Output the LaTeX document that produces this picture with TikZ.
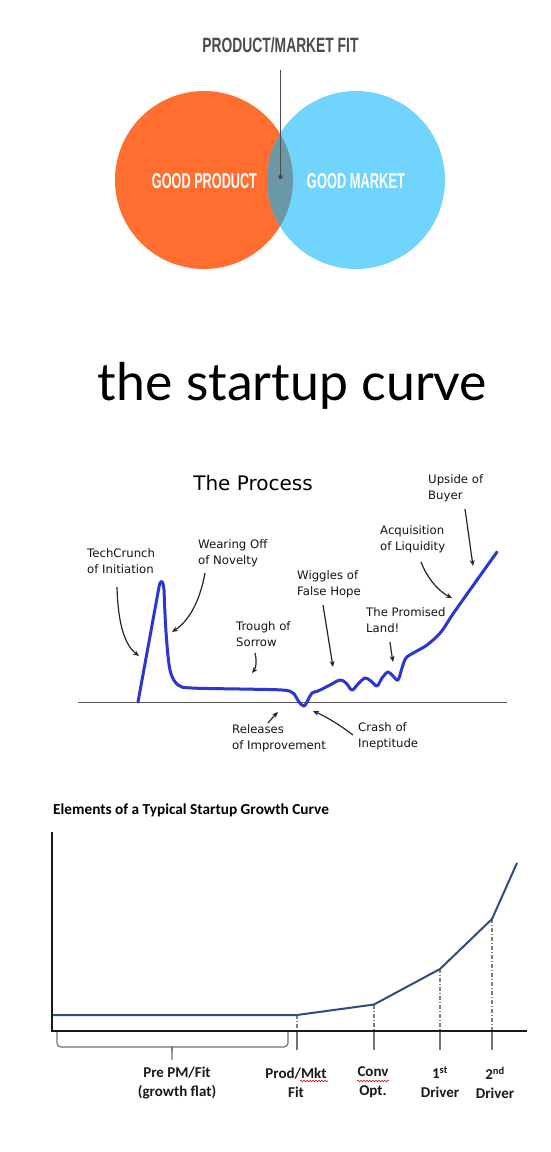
\documentclass[tikz,border=0pt]{standalone}
\usepackage{fontspec}
\usetikzlibrary{arrows.meta,decorations.pathmorphing}
\newfontfamily\condfont{Liberation Sans}
\newfontfamily\gillfont{Lato}
\newfontfamily\lucfont{DejaVu Sans}
\newfontfamily\calfont{Carlito}
\definecolor{vorange}{HTML}{FF6D2F}
\definecolor{vblue}{HTML}{70D4FC}
\definecolor{vmix}{HTML}{6B98A6}
\definecolor{vgray}{HTML}{4A4C50}
\definecolor{cblue}{HTML}{2B37D0}
\definecolor{gblue}{HTML}{2F4E7E}
\begin{document}
\begin{tikzpicture}[x=1pt,y=-1pt,
  vlabel/.style={inner sep=0pt,text=white},
  plabel/.style={inner sep=0pt,anchor=west,align=left,font=\lucfont\fontsize{11.7}{16}\selectfont,text=black!92},
  parrow/.style={draw=black!85,line width=1.2pt,-{Stealth[length=6pt,width=5pt]}},
  glabel/.style={inner sep=0pt,align=center,font=\calfont\bfseries\fontsize{15}{19}\selectfont,text=black!90},
  gdash/.style={draw=black!50,line width=1.2pt,dash pattern=on 4pt off 2pt on 1pt off 2pt},
  gtick/.style={draw=black!55,line width=1.2pt},
  squig/.style={draw=red!80!black,line width=0.6pt,decorate,decoration={snake,amplitude=0.7pt,segment length=3pt}}]
\useasboundingbox (0,0) rectangle (550,1152);
\fill[white] (0,0) rectangle (550,1152);
% ---------- Venn ----------
\fill[vorange] (204,180) circle[radius=89];
\fill[vblue] (356,180) circle[radius=89];
\begin{scope}
  \clip (204,180) circle[radius=89];
  \fill[vmix] (356,180) circle[radius=89];
\end{scope}
\node[inner sep=0pt,text=vgray] (pmf) at (280.5,45) {\resizebox{156pt}{15pt}{\condfont\bfseries PRODUCT/MARKET FIT}};
\coordinate (pmftop) at (280.5,70);
\coordinate (dot) at (280.5,177);
\draw[vgray,line width=1pt] (pmftop) -- (dot);
\fill[vgray] (dot) circle[radius=2.2];
\node[vlabel] (gp) at (204.5,181) {\resizebox{105pt}{15pt}{\condfont\bfseries GOOD PRODUCT}};
\node[vlabel] (gm) at (356,181) {\resizebox{98pt}{15pt}{\condfont\bfseries GOOD MARKET}};
% ---------- the startup curve ----------
\node[inner sep=0pt,anchor=base] (title) at (292.5,400) {\resizebox{389pt}{!}{\gillfont the startup curve}};
% ---------- The Process ----------
\node[inner sep=0pt,font=\lucfont\fontsize{20}{22}\selectfont] (proc) at (253,483) {The Process};
\coordinate (bl) at (78,702);
\coordinate (br) at (507,702);
\draw[black!65,line width=1pt] (bl) -- (br);
\draw[cblue,line width=3pt,line join=round,line cap=round]
  (138,702) -- (159,587) .. controls (160.5,579) and (163,579) .. (164,590)
  -- plot[smooth,tension=0.55] coordinates {(164,590) (166,632) (170,670) (178,685) (192,688) (240,689) (282,690) (293,693) (299,702) (304,706) (308,700) (312,693) (318,691) (330,685) (340,680) (346,683) (352,690) (358,684) (365,678) (371,681) (377,686) (382,678) (388,672) (393,676) (398,680) (402,668) (406,658) (415,652) (427,645) (441,632) (455,611) (497,552)};
\node[plabel] (tc) at (87,561) {TechCrunch\\of Initiation};
\node[plabel] (wo) at (198,553) {Wearing Off\\of Novelty};
\node[plabel] (ts) at (236,634) {Trough of\\Sorrow};
\node[plabel] (ri) at (232,738.5) {Releases\\of Improvement};
\node[plabel] (ci) at (358,736) {Crash of\\Ineptitude};
\node[plabel] (wf) at (297,584.5) {Wiggles of\\False Hope};
\node[plabel] (pl) at (366,620) {The Promised\\Land!};
\node[plabel] (al) at (380,539.5) {Acquisition\\of Liquidity};
\node[plabel] (ub) at (428,488.5) {Upside of\\Buyer};
\coordinate (tcs) at (117,587); \coordinate (tce) at (139,656);
\coordinate (wos) at (205,573); \coordinate (woe) at (172,632);
\coordinate (tss) at (255,653); \coordinate (tse) at (252,673);
\coordinate (ris) at (268,723); \coordinate (rie) at (278,712);
\coordinate (cis) at (353,735); \coordinate (cie) at (313,711);
\coordinate (wfs) at (323,605); \coordinate (wfe) at (333,667);
\coordinate (pls) at (390,642); \coordinate (ple) at (393,662);
\coordinate (als) at (421,562); \coordinate (ale) at (452,598);
\coordinate (ubs) at (465,509); \coordinate (ube) at (473,566);
\draw[parrow] (tcs) .. controls (118,625) and (125,645) .. (tce);
\draw[parrow] (wos) .. controls (200,600) and (190,620) .. (woe);
\draw[parrow] (tss) .. controls (257,661) and (256,668) .. (tse);
\draw[parrow] (ris) .. controls (272,718) and (275,715) .. (rie);
\draw[parrow] (cis) .. controls (340,725) and (325,716) .. (cie);
\draw[parrow] (wfs) -- (wfe);
\draw[parrow] (pls) .. controls (391,650) and (392,656) .. (ple);
\draw[parrow] (als) .. controls (428,580) and (440,592) .. (ale);
\draw[parrow] (ubs) -- (ube);
% ---------- Growth curve ----------
\node[inner sep=0pt,anchor=west,font=\calfont\bfseries\fontsize{15.3}{17}\selectfont] (gtitle) at (53,810) {Elements of a Typical Startup Growth Curve};
\coordinate (ytop) at (52,832);
\coordinate (org) at (52,1031);
\coordinate (xend) at (527,1031);
\coordinate (p0) at (52,1015);
\coordinate (p1) at (297,1015);
\coordinate (p2) at (374,1004.5);
\coordinate (p3) at (440,969);
\coordinate (p4) at (492,919);
\coordinate (p5) at (517,863);
\foreach \p/\x in {p1/297,p2/374,p3/440,p4/492}{
  \draw[gdash] (\p) -- (\x,1031);
  \draw[gtick] (\x,1031) -- (\x,1050);
}
\draw[gblue,line width=2pt,line join=round] (p0) -- (p1) -- (p2) -- (p3) -- (p4) -- (p5);
\draw[black!90,line width=2pt] (ytop) -- (org) -- (xend);
\draw[black!55,line width=1.2pt,rounded corners=4pt] (57,1032) -- (57,1047) -- (168,1047) .. controls (171,1047) and (172,1049) .. (172,1052) -- (172,1060);
\draw[black!55,line width=1.2pt,rounded corners=4pt] (288,1032) -- (288,1047) -- (176,1047) .. controls (173,1047) and (172,1049) .. (172,1052);
\node[glabel] (pre) at (177,1082.5) {Pre PM/Fit\\(growth flat)};
\node[glabel] (pmk) at (296,1082.5) {Prod/Mkt\\Fit};
\node[glabel] (cop) at (373,1082.5) {Conv\\Opt.};
\node[glabel] (d1) at (440,1082.5) {1\textsuperscript{st}\\Driver};
\node[glabel] (d2) at (495,1082.5) {2\textsuperscript{nd}\\Driver};
\draw[squig] (300,1081) -- (328,1081);
\draw[squig] (357,1081) -- (389,1081);
\end{tikzpicture}
\end{document}
